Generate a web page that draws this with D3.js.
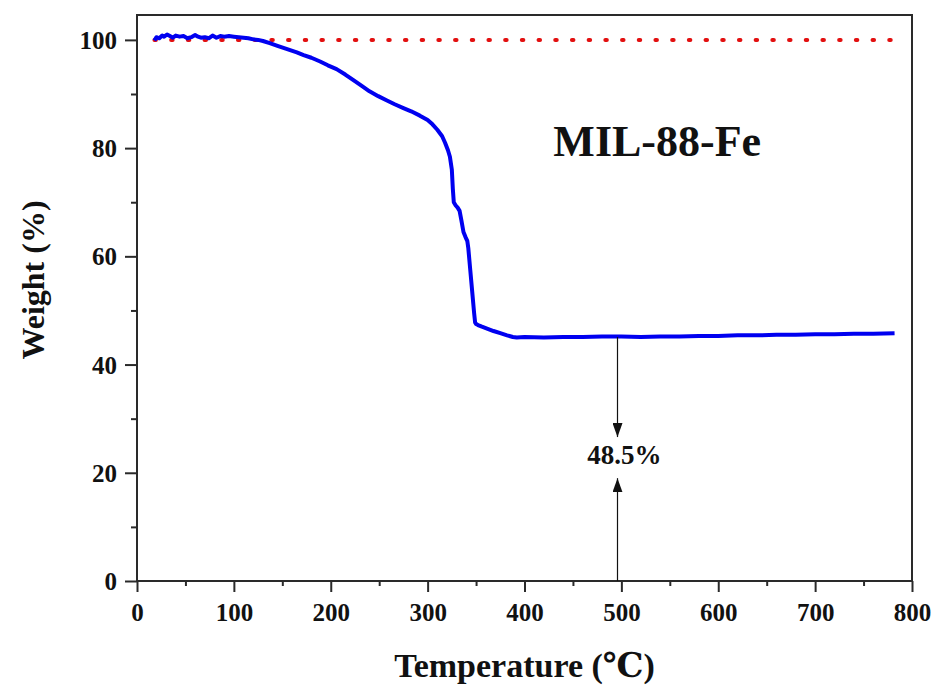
<!DOCTYPE HTML>
<meta charset="utf-8">
<style>
    body { margin: 0; background: #fff; }
    text { font-family: "Liberation Serif", "Times New Roman", "DejaVu Serif", serif; font-weight: bold; fill: #111; }
</style>
<html>
    <head>
        <script src="https://d3js.org/d3.v7.min.js"></script>
    </head>
    <body>
    </body>
    <script>
        // TGA curve
        var temps = [18, 20, 23, 26, 28, 31, 34, 37, 40, 44, 48, 52, 56, 60, 63, 66, 70, 74, 78, 82,
                     86, 90, 95, 100, 105, 110, 115, 120, 125, 130, 137, 145, 155, 165, 172, 180, 189, 197, 206, 215,
                     223, 232, 240, 249, 258, 266, 275, 283, 292, 300, 305, 310, 315, 318, 321, 323, 325, 326, 327, 329,
                     331, 333, 335, 337, 339, 341, 342, 344, 346, 348, 349, 350, 352, 356, 362, 368, 375, 382, 388, 392,
                     400, 420, 440, 460, 480, 500, 520, 540, 560, 580, 600, 620, 640, 660, 680, 700, 720, 740, 760, 782];
        var weights = [99.9, 100.5, 100.3, 100.8, 100.6, 101.0, 100.7, 100.4, 100.8, 100.6, 100.7, 100.3, 100.5, 100.9, 100.6, 100.4, 100.5, 100.3, 100.8, 100.4,
                       100.7, 100.6, 100.7, 100.6, 100.5, 100.4, 100.3, 100.1, 100.0, 99.8, 99.4, 98.9, 98.3, 97.7, 97.2, 96.7, 96.0, 95.3, 94.6, 93.6,
                       92.6, 91.5, 90.5, 89.6, 88.8, 88.1, 87.4, 86.8, 86.0, 85.2, 84.4, 83.4, 82.2, 81.0, 79.6, 78.4, 76.0, 72.5, 70.0, 69.4,
                       69.0, 68.4, 66.5, 64.5, 63.6, 62.8, 61.5, 57.5, 53.5, 49.5, 47.8, 47.5, 47.3, 47.0, 46.6, 46.2, 45.8, 45.4, 45.1, 45.0,
                       45.1, 45.0, 45.1, 45.1, 45.2, 45.2, 45.1, 45.2, 45.2, 45.3, 45.3, 45.4, 45.4, 45.5, 45.5, 45.6, 45.6, 45.7, 45.7, 45.8];

        // dotted 100% reference line
        var refTemps = [18, 780];
        var refWeight = 100;

        // residue annotation
        var arrowTemp = 496;
        var arrowTop = [45.1, 26.6];   // from curve down to tip
        var arrowBottom = [0, 19.0];   // from axis up to tip
        var residueLabel = "48.5%";
        var labelTemp = 503, labelWeight = 21.6;

        var title = "MIL-88-Fe";
        var titleTemp = 537, titleWeight = 78.5;

        var xTicks = [0, 100, 200, 300, 400, 500, 600, 700, 800];
        var xMinor = [50, 150, 250, 350, 450, 550, 650, 750];
        var yTicks = [0, 20, 40, 60, 80, 100];
        var yMinor = [10, 30, 50, 70, 90];

        var margin = {top: 15, right: 25, bottom: 108, left: 137},
            width = 937 - margin.left - margin.right,
            height = 689 - margin.top - margin.bottom;

        var svg = d3.select("body").append("svg")
                    .attr("width", width + margin.left + margin.right)
                    .attr("height", height + margin.top + margin.bottom)
                .append("g")
                    .attr("transform", "translate(" + margin.left + "," + margin.top + ")");

        var x = d3.scaleLinear().domain([0, 800]).range([0, width]),
            y = d3.scaleLinear().domain([0, 104.6]).range([height, 0]);

        var defs = svg.append("defs");
        defs.append("marker")
            .attr("id", "head")
            .attr("viewBox", "0 0 14 10")
            .attr("refX", 14).attr("refY", 5)
            .attr("markerWidth", 14).attr("markerHeight", 10)
            .attr("markerUnits", "userSpaceOnUse")
            .attr("orient", "auto")
          .append("path")
            .attr("d", "M0,0 L14,5 L0,10 Z")
            .attr("fill", "#111");

        // frame
        svg.append("rect")
            .attr("width", width).attr("height", height)
            .attr("fill", "none")
            .attr("stroke", "#2a2a2a")
            .attr("stroke-width", 2);

        // axes
        var xAxis = svg.append("g")
            .attr("transform", "translate(0," + height + ")")
            .call(d3.axisBottom(x).tickValues(xTicks).tickSize(11).tickPadding(10).tickFormat(d3.format("d")));
        svg.append("g")
            .attr("transform", "translate(0," + height + ")")
            .call(d3.axisBottom(x).tickValues(xMinor).tickSize(5).tickFormat(""));
        var yAxis = svg.append("g")
            .call(d3.axisLeft(y).tickValues(yTicks).tickSize(12).tickPadding(8).tickFormat(d3.format("d")));
        svg.append("g")
            .call(d3.axisLeft(y).tickValues(yMinor).tickSize(6).tickFormat(""));

        svg.selectAll(".domain").remove();
        svg.selectAll(".tick line").attr("stroke", "#2a2a2a").attr("stroke-width", 2);
        svg.selectAll(".tick text")
            .attr("font-size", "25px")
            .attr("fill", "#111")
            .style("font-family", "'Liberation Serif', 'Times New Roman', serif")
            .style("font-weight", "bold");
        xAxis.selectAll(".tick text").attr("dy", "0.75em");
        yAxis.selectAll(".tick text").attr("dy", "0.34em");

        // reference line
        svg.append("path")
            .datum(refTemps)
            .attr("d", d3.line().x(function(d){ return x(d); }).y(function(){ return y(refWeight); }))
            .attr("fill", "none")
            .attr("stroke", "#e21010")
            .attr("stroke-width", 4)
            .attr("stroke-linecap", "round")
            .attr("stroke-dasharray", "1.5,15.2");

        // curve
        var pts = temps.map(function(t, i){ return [t, weights[i]]; });
        svg.append("path")
            .datum(pts)
            .attr("d", d3.line().x(function(d){ return x(d[0]); }).y(function(d){ return y(d[1]); }))
            .attr("fill", "none")
            .attr("stroke", "#0000f0")
            .attr("stroke-width", 4)
            .attr("stroke-linejoin", "round");

        // residue arrows
        svg.append("line")
            .attr("x1", x(arrowTemp)).attr("x2", x(arrowTemp))
            .attr("y1", y(arrowTop[0])).attr("y2", y(arrowTop[1]))
            .attr("stroke", "#111").attr("stroke-width", 1.2)
            .attr("marker-end", "url(#head)");
        svg.append("line")
            .attr("x1", x(arrowTemp)).attr("x2", x(arrowTemp))
            .attr("y1", y(arrowBottom[0])).attr("y2", y(arrowBottom[1]))
            .attr("stroke", "#111").attr("stroke-width", 1.2)
            .attr("marker-end", "url(#head)");
        svg.append("text")
            .attr("x", x(labelTemp)).attr("y", y(labelWeight))
            .attr("text-anchor", "middle")
            .attr("font-size", "27px")
            .text(residueLabel);

        svg.append("text")
            .attr("x", x(titleTemp)).attr("y", y(titleWeight))
            .attr("text-anchor", "middle")
            .attr("font-size", "44px")
            .text(title);

        // axis titles
        svg.append("text")
            .attr("x", width / 2).attr("y", height + 96)
            .attr("text-anchor", "middle")
            .attr("font-size", "34px")
            .text("Temperature (℃)");
        svg.append("text")
            .attr("transform", "translate(" + (-93) + "," + (265) + ") rotate(-90)")
            .attr("text-anchor", "middle")
            .attr("font-size", "32px")
            .text("Weight (%)");
    </script>
</html>
